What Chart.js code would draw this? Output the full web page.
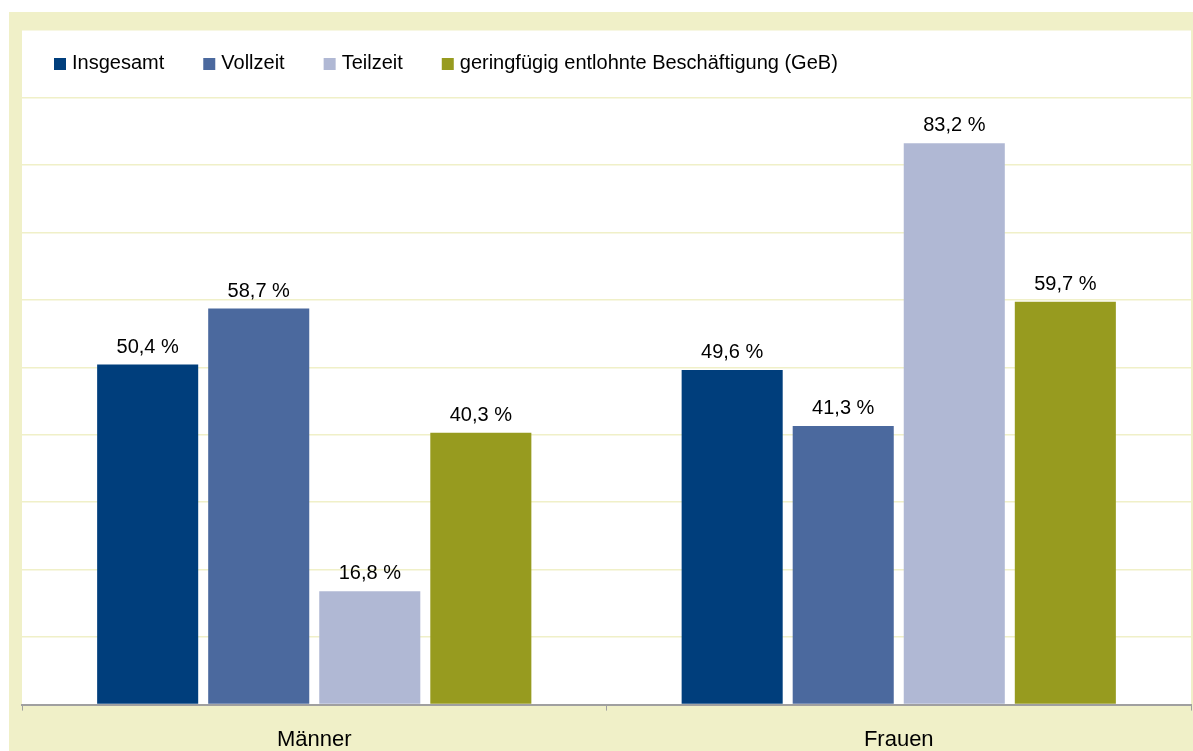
<!DOCTYPE html>
<html lang="de">
<head>
<meta charset="utf-8">
<title>Anteile nach Geschlecht</title>
<script src="https://cdn.jsdelivr.net/npm/chart.js@4/dist/chart.umd.min.js"></script>
<style>
  html, body { margin: 0; padding: 0; background: #ffffff; }
  #wrap { width: 1193px; height: 751px; position: relative; }
</style>
</head>
<body>
<div id="wrap"><canvas id="chartCanvas" width="1193" height="751"></canvas></div>
<script>
  var categories = ['Männer', 'Frauen'];
  var seriesNames = ['Insgesamt', 'Vollzeit', 'Teilzeit', 'geringfügig entlohnte Beschäftigung (GeB)'];
  var insgesamt = [50.4, 49.6];
  var vollzeit = [58.7, 41.3];
  var teilzeit = [16.8, 83.2];
  var geb = [40.3, 59.7];
  var seriesColors = ['#003e7c', '#4b699e', '#b0b8d4', '#979b1f'];

  var frameColor = '#f0f0c8';
  var fontFamily = "'Liberation Sans', Arial, sans-serif";

  // frame + white plot area behind the chart
  var backgroundPlugin = {
    id: 'frameBackground',
    beforeDraw: function(chart) {
      var c = chart.ctx;
      var area = chart.chartArea;
      c.save();
      c.fillStyle = '#ffffff';
      c.fillRect(0, 0, chart.width, chart.height);
      c.fillStyle = frameColor;
      c.fillRect(9, 12, chart.width - 9, chart.height - 12);
      c.fillStyle = '#ffffff';
      c.fillRect(area.left, area.top, area.right - area.left, area.bottom - area.top);
      c.restore();
    }
  };

  // horizontal legend drawn inside the plot area, like the original
  var innerLegendPlugin = {
    id: 'innerLegend',
    afterDraw: function(chart) {
      var c = chart.ctx;
      var x = chart.chartArea.left + 32;
      var boxTop = 58;
      var baseline = 69;
      c.save();
      c.font = '20px ' + fontFamily;
      c.textBaseline = 'alphabetic';
      c.textAlign = 'left';
      chart.data.datasets.forEach(function(ds) {
        c.fillStyle = ds.backgroundColor;
        c.fillRect(x, boxTop, 12, 12);
        c.fillStyle = '#000000';
        c.fillText(ds.label, x + 18, baseline);
        x += 18 + c.measureText(ds.label).width + 39;
      });
      c.restore();
    }
  };

  // value labels above the bars
  var valueLabelPlugin = {
    id: 'valueLabels',
    afterDatasetsDraw: function(chart) {
      var c = chart.ctx;
      c.save();
      c.font = '20px ' + fontFamily;
      c.fillStyle = '#000000';
      c.textAlign = 'center';
      c.textBaseline = 'alphabetic';
      chart.data.datasets.forEach(function(ds, i) {
        var meta = chart.getDatasetMeta(i);
        meta.data.forEach(function(bar, j) {
          var txt = ds.data[j].toFixed(1).replace('.', ',') + ' %';
          c.fillText(txt, bar.x, bar.y - 12);
        });
      });
      c.restore();
    }
  };

  var allSeries = [insgesamt, vollzeit, teilzeit, geb];
  var datasets = allSeries.map(function(values, i) {
    return {
      label: seriesNames[i],
      data: values,
      backgroundColor: seriesColors[i],
      borderWidth: 0,
      categoryPercentage: 0.76,
      barPercentage: 0.91
    };
  });

  new Chart(document.getElementById('chartCanvas'), {
    type: 'bar',
    data: { labels: categories, datasets: datasets },
    options: {
      responsive: false,
      animation: false,
      layout: { padding: { left: 22, top: 30, right: 2, bottom: -18 } },
      plugins: {
        legend: { display: false },
        tooltip: { enabled: false }
      },
      scales: {
        x: {
          grid: {
            offset: true,
            drawOnChartArea: false,
            drawTicks: true,
            tickLength: 6,
            color: '#a0a0a0'
          },
          border: { display: true, color: '#a0a0a0', width: 2 },
          ticks: {
            color: '#000000',
            padding: 16,
            font: { family: fontFamily, size: 22 }
          }
        },
        y: {
          min: 0,
          max: 100,
          ticks: { display: false, stepSize: 10 },
          grid: { color: '#f0f0c8', drawTicks: false, lineWidth: 1.5 },
          border: { display: false }
        }
      }
    },
    plugins: [backgroundPlugin, valueLabelPlugin, innerLegendPlugin]
  });
</script>
</body>
</html>
